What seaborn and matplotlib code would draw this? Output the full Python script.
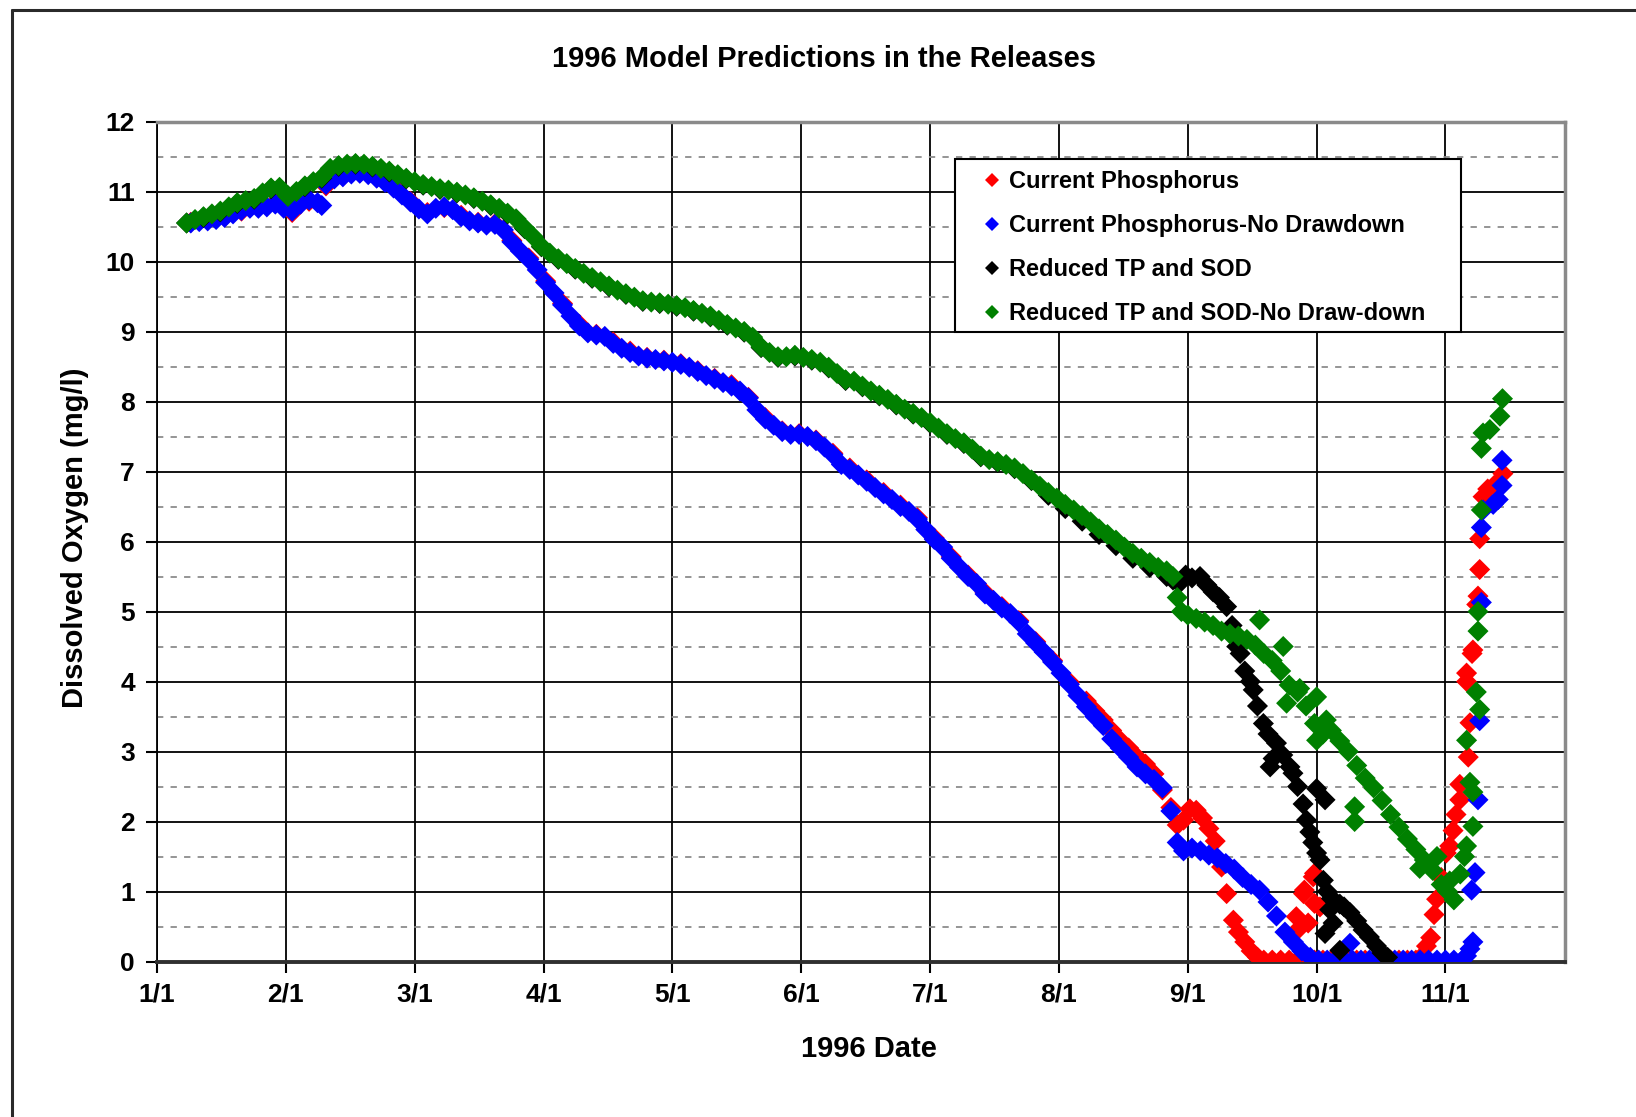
import matplotlib
matplotlib.use("Agg")
import matplotlib.pyplot as plt
import seaborn as sns
import pandas as pd
from matplotlib.ticker import MultipleLocator
from matplotlib.font_manager import FontProperties
from matplotlib.lines import Line2D
from matplotlib.patches import Rectangle

# ---------------- data (x = day position on the monthly axis, 30.5 days per month) -------------
month_labels = ["1/1", "2/1", "3/1", "4/1", "5/1", "6/1", "7/1", "8/1", "9/1", "10/1", "11/1"]
month_pos = [0, 30.5, 61, 91.5, 122, 152.5, 183, 213.5, 244, 274.5, 305]
series_names = ["Current Phosphorus", "Current Phosphorus-No Drawdown",
                 "Reduced TP and SOD", "Reduced TP and SOD-No Draw-down"]
series_colors = ["#FF0000", "#0000FF", "#000000", "#008000"]

# Current Phosphorus (red)
red_day = [8, 12, 16, 20, 24, 28, 32, 36, 40, 44, 48, 52, 56, 60, 64, 68, 72, 76, 80, 84,
           88, 92, 96, 100, 104, 108, 112, 116, 120, 124, 128, 132, 136, 140, 144, 148, 152, 156, 160, 164,
           168, 172, 176, 180, 184, 188, 192, 196, 200, 204, 208, 212, 216,
           220, 222, 224, 226, 228, 230, 232, 234, 236, 238, 240,
           241.5, 243, 244.5, 246, 247.5, 249, 250.5, 252, 253.2, 254.8, 256, 257.5, 259, 260.5, 262,
           264, 266, 268, 270, 272, 274, 276, 278, 280, 282, 284, 286, 288, 290, 292, 294, 296, 298,
           269.7, 270, 271.4, 271.6, 273.7, 274, 274, 275.3, 272.5,
           299.5, 300.5, 301.5, 302.3, 302.9, 304, 305.2, 306, 306.8, 307.5, 308.4, 308.4, 310.4, 310.8,
           310, 310, 311.3, 311.5, 312.4, 312.7, 313.1, 313.1, 313.9, 315, 316.5, 317.5, 318.6]
red_do = [10.56, 10.60, 10.64, 10.72, 10.78, 10.84, 10.70, 10.86, 11.08, 11.22, 11.27, 11.20, 11.06, 10.86, 10.70, 10.77, 10.66, 10.56, 10.54, 10.30,
          10.05, 9.72, 9.40, 9.10, 8.96, 8.85, 8.72, 8.63, 8.59, 8.54, 8.44, 8.33, 8.24, 8.06, 7.77, 7.58, 7.54, 7.45, 7.26, 7.05,
          6.88, 6.70, 6.52, 6.34, 6.05, 5.78, 5.52, 5.27, 5.07, 4.87, 4.57, 4.30, 3.99,
          3.72, 3.58, 3.45, 3.30, 3.16, 3.05, 2.92, 2.82, 2.68, 2.45, 2.20,
          1.95, 2.02, 2.18, 2.16, 2.05, 1.90, 1.72, 1.35, 0.97, 0.59, 0.42, 0.28, 0.15, 0.06, 0.02,
          0.02, 0.02, 0.02, 0.02, 0.02, 0.02, 0.02, 0.02, 0.02, 0.02, 0.02, 0.02, 0.02, 0.02, 0.02, 0.02, 0.02, 0.02,
          0.64, 0.45, 0.97, 1.02, 1.21, 1.26, 0.83, 0.78, 0.55,
          0.08, 0.22, 0.34, 0.67, 0.89, 1.20, 1.55, 1.65, 1.87, 2.10, 2.31, 2.53, 2.92, 3.41,
          4.00, 4.12, 4.40, 4.45, 5.10, 5.22, 5.60, 6.04, 6.64, 6.75, 6.80, 6.85, 6.97]

# Current Phosphorus-No Drawdown (blue)
blue_day = [8, 10, 12, 14, 16, 18, 20, 22, 24, 26, 28, 30, 32, 34, 36, 38, 39,
            40, 42, 44, 46, 48, 50, 52, 54, 56, 58, 60, 62, 64, 66, 68, 70, 72, 74, 76, 78,
            80, 82, 84, 86, 88, 90, 92, 94, 96, 98, 100, 102, 104, 106, 108, 110, 112, 114, 116, 118,
            120, 122, 124, 126, 128, 130, 132, 134, 136, 138, 140, 142, 144, 146, 148, 150, 152, 154, 156, 158,
            160, 162, 164, 166, 168, 170, 172, 174, 176, 178, 180, 182, 184, 186, 188, 190, 192, 194, 196, 198,
            200, 202, 204, 206, 208, 210, 212, 214, 216, 218, 220, 222, 224, 226, 228, 230, 232, 234, 236, 238,
            240, 241.5, 243, 245, 247, 249, 251, 253, 255, 257, 259, 261, 263, 265, 267, 269, 271, 273, 275,
            277, 279, 281, 283, 285, 287, 289, 291, 293, 295, 297, 299, 301, 303, 305, 307, 309,
            282.4, 310, 310.8, 311.5, 311.2, 312.0, 312.7, 313.1, 313.5, 313.5, 313.9, 316.3, 317.5, 318.4, 318.4]
blue_do = [10.55, 10.57, 10.58, 10.60, 10.63, 10.68, 10.73, 10.76, 10.76, 10.78, 10.82, 10.76, 10.72, 10.82, 10.88, 10.84, 10.80,
           11.10, 11.18, 11.21, 11.25, 11.26, 11.24, 11.19, 11.13, 11.05, 10.95, 10.85, 10.75, 10.68, 10.76, 10.78, 10.74, 10.64, 10.58, 10.55, 10.52,
           10.53, 10.45, 10.28, 10.15, 10.03, 9.88, 9.70, 9.55, 9.38, 9.22, 9.08, 8.98, 8.95, 8.93, 8.83, 8.76, 8.70, 8.65, 8.62, 8.60,
           8.58, 8.56, 8.53, 8.49, 8.43, 8.37, 8.32, 8.27, 8.22, 8.15, 8.05, 7.88, 7.75, 7.66, 7.57, 7.53, 7.53, 7.50, 7.44, 7.35,
           7.24, 7.10, 7.03, 6.95, 6.86, 6.77, 6.68, 6.60, 6.50, 6.43, 6.32, 6.17, 6.03, 5.92, 5.76, 5.63, 5.50, 5.40, 5.25, 5.16,
           5.05, 4.97, 4.85, 4.68, 4.55, 4.42, 4.28, 4.12, 3.96, 3.80, 3.64, 3.50, 3.37, 3.18, 3.05, 2.92, 2.78, 2.68, 2.60, 2.48,
           2.15, 1.70, 1.58, 1.62, 1.58, 1.52, 1.48, 1.40, 1.32, 1.20, 1.10, 1.02, 0.85, 0.65, 0.42, 0.28, 0.15, 0.06, 0.02,
           0.02, 0.02, 0.02, 0.02, 0.02, 0.02, 0.02, 0.02, 0.02, 0.02, 0.02, 0.02, 0.02, 0.02, 0.02, 0.02, 0.02,
           0.26, 0.08, 0.18, 0.28, 1.02, 1.27, 2.31, 3.44, 5.13, 6.20, 6.45, 6.53, 6.60, 6.80, 7.16]

# Reduced TP and SOD (black)
black_day = [7, 11, 15, 19, 23, 27, 31, 35, 39, 43, 47, 51, 55, 59, 63, 67, 71, 75, 79, 83,
             87, 91, 95, 99, 103, 107, 111, 115, 119, 123, 127, 131, 135, 139, 143, 147, 151, 155, 159, 163,
             167, 171, 175, 179, 183, 187, 191, 195, 199, 203, 207, 211, 215, 219, 223, 227, 231, 235, 239,
             240.5, 242, 243.5, 245, 246.9, 248.5, 250, 251.5, 253.2, 254.5, 255.6, 256.4, 257.5, 258.8, 259.5,
             260.5, 261.9, 263, 264.2, 265, 266.5, 268.2, 268.9, 270, 271.3, 272.1, 272.9, 273.6, 274.5, 275.3,
             276.1, 277, 278, 279, 280, 281, 282.4, 284, 285.5, 287, 288.7, 290, 291.3,
             263.5, 274.5, 276.5, 277.6, 278.4, 280, 276.5]
black_do = [10.55, 10.63, 10.71, 10.83, 10.89, 11.04, 10.94, 11.07, 11.19, 11.36, 11.39, 11.35, 11.28, 11.18, 11.09, 11.03, 10.98, 10.90, 10.80, 10.68,
            10.47, 10.21, 10.03, 9.89, 9.76, 9.64, 9.53, 9.43, 9.40, 9.36, 9.29, 9.21, 9.09, 8.99, 8.77, 8.63, 8.65, 8.59, 8.48, 8.30,
            8.21, 8.08, 7.95, 7.82, 7.69, 7.53, 7.40, 7.21, 7.13, 7.04, 6.87, 6.66, 6.47, 6.29, 6.10, 5.94, 5.76, 5.63, 5.50,
            5.45, 5.40, 5.52, 5.48, 5.50, 5.38, 5.28, 5.20, 5.07, 4.80, 4.50, 4.40, 4.15, 4.00, 3.88,
            3.65, 3.40, 3.25, 2.90, 3.12, 2.95, 2.78, 2.69, 2.50, 2.25, 2.02, 1.85, 1.70, 1.55, 1.45,
            1.16, 1.00, 0.90, 0.85, 0.82, 0.78, 0.70, 0.58, 0.45, 0.35, 0.22, 0.12, 0.06,
            2.78, 2.47, 2.31, 0.74, 0.55, 0.16, 0.40]

# Reduced TP and SOD-No Draw-down (green)
green_day = [7, 9, 11, 13, 15, 17, 19, 21, 23, 25, 27, 29, 31, 33, 35, 37, 39, 41, 43, 45,
             47, 49, 51, 53, 55, 57, 59, 61, 63, 65, 67, 69, 71, 73, 75, 77, 79, 81, 83, 85,
             87, 89, 91, 93, 95, 97, 99, 101, 103, 105, 107, 109, 111, 113, 115, 117, 119, 121, 123, 125,
             127, 129, 131, 133, 135, 137, 139, 141, 143, 145, 147, 149, 151, 153, 155, 157, 159, 161, 163, 165,
             167, 169, 171, 173, 175, 177, 179, 181, 183, 185, 187, 189, 191, 193, 195, 197, 199, 201, 203, 205,
             207, 209, 211, 213, 215, 217, 219, 221, 223, 225, 227, 229, 231, 233, 235, 237, 239,
             240.5, 241.5, 242.5, 244, 246, 248, 250, 252, 254, 256, 258, 260, 262, 264, 266, 268, 270, 272, 274,
             276, 278, 280, 282, 284, 286, 288, 290, 292, 294, 296, 298, 300, 302, 304, 305.5, 307,
             261, 266.6, 267.4, 270.5, 274.5, 274.5, 276.8, 283.5, 283.5, 298.9, 303, 306,
             308.5, 309.5, 310, 311.5, 311.5, 310.8, 310.0, 313.1, 312.3, 312.7, 312.7, 313.5, 313.5, 313.9,
             315.5, 317.9, 318.5]
green_do = [10.55, 10.60, 10.64, 10.68, 10.72, 10.78, 10.84, 10.87, 10.90, 10.98, 11.05, 11.06, 10.93, 11.00, 11.08, 11.14, 11.20, 11.33, 11.37, 11.39,
            11.40, 11.39, 11.36, 11.33, 11.29, 11.24, 11.19, 11.14, 11.10, 11.07, 11.04, 11.02, 10.99, 10.95, 10.91, 10.86, 10.81, 10.76, 10.69, 10.61,
            10.48, 10.36, 10.22, 10.12, 10.04, 9.97, 9.90, 9.83, 9.77, 9.71, 9.65, 9.59, 9.54, 9.49, 9.44, 9.42, 9.41, 9.39, 9.37, 9.34,
            9.30, 9.26, 9.22, 9.16, 9.10, 9.05, 9.00, 8.92, 8.78, 8.70, 8.64, 8.64, 8.66, 8.63, 8.60, 8.56, 8.49, 8.40, 8.31, 8.29,
            8.22, 8.15, 8.09, 8.03, 7.96, 7.89, 7.83, 7.77, 7.70, 7.62, 7.54, 7.47, 7.41, 7.32, 7.22, 7.17, 7.14, 7.10, 7.05, 6.97,
            6.88, 6.79, 6.70, 6.62, 6.53, 6.45, 6.37, 6.28, 6.18, 6.10, 6.02, 5.92, 5.83, 5.76, 5.70, 5.63, 5.58,
            5.50, 5.20, 5.00, 4.95, 4.90, 4.85, 4.80, 4.72, 4.68, 4.65, 4.60, 4.52, 4.40, 4.30, 4.15, 3.95, 3.85, 3.65, 3.40,
            3.25, 3.30, 3.15, 3.00, 2.80, 2.62, 2.48, 2.30, 2.10, 1.92, 1.75, 1.60, 1.45, 1.30, 1.10, 1.00, 0.88,
            4.88, 4.50, 3.69, 3.90, 3.78, 3.16, 3.45, 2.21, 2.00, 1.33, 1.50, 1.15,
            1.25, 1.50, 1.65, 1.93, 2.42, 2.56, 3.16, 3.60, 3.85, 4.72, 5.00, 6.45, 7.33, 7.55,
            7.60, 7.79, 8.04]

y_ticks = list(range(0, 13))
title_text = "1996 Model Predictions in the Releases"
x_title = "1996 Date"
y_title = "Dissolved Oxygen (mg/l)"

# ---------------- build table ----------------
parts = []
for name, d, v in zip(series_names, [red_day, blue_day, black_day, green_day],
                      [red_do, blue_do, black_do, green_do]):
    assert len(d) == len(v), (name, len(d), len(v))
    parts.append(pd.DataFrame({"day": d, "do": v, "series": name}))
df = pd.concat(parts, ignore_index=True)

# ---------------- style ----------------
sns.set_style("white")
plt.rcParams["font.family"] = ["Liberation Sans", "DejaVu Sans"]
plt.rcParams["text.color"] = "black"
plt.rcParams["xtick.color"] = "black"
plt.rcParams["ytick.color"] = "black"
font_list = ["Liberation Sans", "DejaVu Sans"]

W, H = 1636, 1117
fig = plt.figure(figsize=(W / 100, H / 100), dpi=100)
fig.patch.set_facecolor("white")
L, R, T, B = 157, 1565, 121.5, 961.5
ax = fig.add_axes([L / W, 1 - B / H, (R - L) / W, (B - T) / H])

sns.scatterplot(data=df, x="day", y="do", hue="series", hue_order=series_names,
                palette=dict(zip(series_names, series_colors)), marker="D", s=115,
                linewidth=0, ax=ax, zorder=3)

ax.set_xlim(0, 333.3)
ax.set_ylim(0, 12)
ax.set_xticks(month_pos)
ax.set_xticklabels(month_labels)
ax.set_yticks(y_ticks)
ax.set_yticklabels([str(t) for t in y_ticks])
ax.yaxis.set_minor_locator(MultipleLocator(0.5))
ax.set_xlabel("")
ax.set_ylabel("")

ax.grid(which="major", axis="both", color="black", lw=1.3, zorder=0)
ax.grid(which="minor", axis="y", color="#8c8c8c", lw=1.3, ls=(0, (3.5, 4)), zorder=0)
ax.set_axisbelow(True)

for lab in ax.get_xticklabels() + ax.get_yticklabels():
    lab.set_fontfamily(font_list)
    lab.set_fontweight("bold")
    lab.set_fontsize(19)
    lab.set_color("black")
ax.tick_params(axis="x", which="major", direction="out", length=8, width=1.5, pad=7,
               color="black", labelcolor="black", bottom=True)
ax.tick_params(axis="y", which="major", direction="out", length=8, width=1.5, pad=8,
               color="black", labelcolor="black", left=True)
ax.tick_params(axis="y", which="minor", length=0)

for side in ["top", "right"]:
    ax.spines[side].set_color("#8a8a8a")
    ax.spines[side].set_linewidth(2.5)
ax.spines["bottom"].set_color("#303030")
ax.spines["bottom"].set_linewidth(2.8)
ax.spines["left"].set_color("black")
ax.spines["left"].set_linewidth(1.3)

# legend box (drawn as its own frame) and legend entries
ax.add_patch(Rectangle((955 / W, 1 - 332 / H), (1461 - 955) / W, (332 - 159) / H,
                       transform=fig.transFigure, facecolor="white", edgecolor="black",
                       lw=1.5, zorder=4))
handles, labels = ax.get_legend_handles_labels()
leg = ax.legend(handles, labels, loc="upper left",
                bbox_to_anchor=((983 - L) / (R - L), (B - 170) / (B - T)),
                frameon=False, borderpad=0, labelspacing=0.89, handletextpad=0.3,
                handlelength=0.8, borderaxespad=0, markerscale=0.66,
                prop=FontProperties(family=font_list, weight="bold", size=17))
for t in leg.get_texts():
    t.set_color("black")
leg.set_zorder(5)

# titles
fig.text(824 / W, 1 - 59 / H, title_text, ha="center", va="center", color="black",
         fontsize=21, fontweight="bold", family=font_list)
fig.text(869 / W, 1 - 1049 / H, x_title, ha="center", va="center", color="black",
         fontsize=21, fontweight="bold", family=font_list)
fig.text(75 / W, 1 - 538 / H, y_title, ha="center", va="center", rotation=90, color="black",
         fontsize=21, fontweight="bold", family=font_list)

# outer chart border (top and left visible)
fig.add_artist(Line2D([12 / W, 1.0], [1 - 10 / H, 1 - 10 / H], transform=fig.transFigure,
                      color="#2a2a2a", lw=2.2))
fig.add_artist(Line2D([12 / W, 12 / W], [0.0, 1 - 10 / H], transform=fig.transFigure,
                      color="#2a2a2a", lw=2.2))

fig.savefig("out.png", dpi=100, facecolor="white")
